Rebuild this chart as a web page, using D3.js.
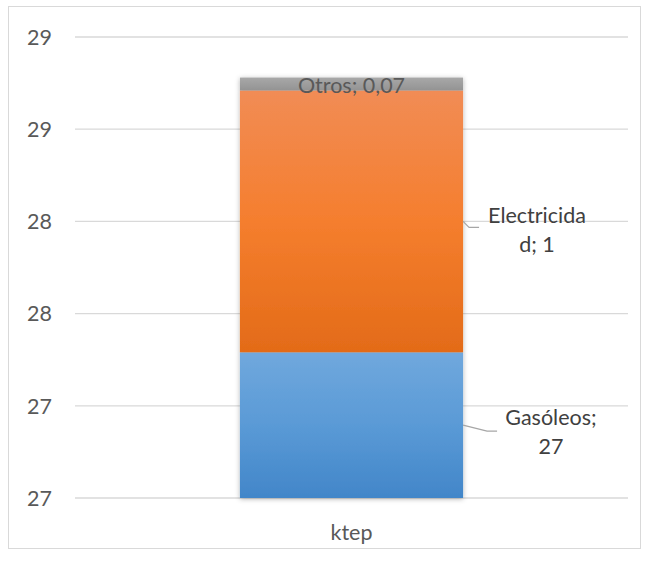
<!DOCTYPE html>
<html>
<head>
<meta charset="utf-8">
<script src="https://cdn.jsdelivr.net/npm/d3@7"></script>
<style>
  body { margin: 0; background: #fff; }
  svg { display: block; font-family: Lato, "Open Sans", sans-serif; }
</style>
</head>
<body>
<svg width="651" height="561"></svg>
<script>
// data
var categories = ["ktep"];
var seriesNames = ["Gasóleos", "Electricidad", "Otros"];
var gasoleos = [27.29];
var electricidad = [1.42];
var otros = [0.07];
var labelValues = ["27", "1", "0,07"];
var yTicks = [26.5, 27, 27.5, 28, 28.5, 29];

var svg = d3.select("svg"),
    width = 651, height = 561;

var margin = {left: 75, right: 23, top: 37, bottom: 63};
var fs = 21.5;

var rows = categories.map(function(c, i) {
  return {cat: c, "Gasóleos": gasoleos[i], "Electricidad": electricidad[i], "Otros": otros[i]};
});
var stacked = d3.stack().keys(seriesNames)(rows);

var x = d3.scaleBand()
    .domain(categories)
    .range([margin.left, width - margin.right])
    .paddingInner(0.425).paddingOuter(0.425);
var y = d3.scaleLinear()
    .domain([26.5, 29])
    .range([height - margin.bottom, margin.top]);
var ymin = y.domain()[0];

// outer frame
svg.append("rect")
    .attr("x", 8.5).attr("y", 6.5)
    .attr("width", 632).attr("height", 542)
    .attr("fill", "#fff").attr("stroke", "#d9d9d9");

// gradients: top, middle, bottom
var defs = svg.append("defs");
var grads = [
  ["gGas", "#70a8dd", "#5a9ad6", "#4286c9"],
  ["gEle", "#f18c55", "#f57e2e", "#e36b18"],
  ["gOtr", "#a8a8a8", "#9e9e9e", "#939393"]
];
grads.forEach(function(g) {
  var lg = defs.append("linearGradient").attr("id", g[0])
      .attr("x1", 0).attr("y1", 0).attr("x2", 0).attr("y2", 1);
  lg.append("stop").attr("offset", "0%").attr("stop-color", g[1]);
  lg.append("stop").attr("offset", "50%").attr("stop-color", g[2]);
  lg.append("stop").attr("offset", "100%").attr("stop-color", g[3]);
});
var f = defs.append("filter").attr("id", "shadow")
    .attr("x", "-10%").attr("y", "-10%").attr("width", "120%").attr("height", "120%");
f.append("feDropShadow").attr("dx", 0).attr("dy", 1).attr("stdDeviation", 2.5)
    .attr("flood-color", "#000").attr("flood-opacity", 0.3);

// gridlines
svg.append("g")
  .selectAll("line")
  .data(yTicks)
  .enter().append("line")
    .attr("x1", 75).attr("x2", 628)
    .attr("y1", d => y(d)).attr("y2", d => y(d))
    .attr("stroke", "#d9d9d9").attr("stroke-width", 1.3);

// y labels
svg.append("g")
  .selectAll("text")
  .data(yTicks)
  .enter().append("text")
    .attr("x", 52)
    .attr("y", d => y(d))
    .attr("dy", "0.36em")
    .attr("text-anchor", "end")
    .attr("font-size", fs)
    .attr("fill", "#595959")
    .text(d => d3.format(".0f")(d));

// bars
var cls = ["gGas", "gEle", "gOtr"];
var barG = svg.append("g").attr("filter", "url(#shadow)");
stacked.forEach(function(s, k) {
  barG.selectAll(null)
    .data(s)
    .enter().append("rect")
      .attr("x", d => x(d.data.cat))
      .attr("width", x.bandwidth())
      .attr("y", d => y(d[1]))
      .attr("height", d => y(Math.max(d[0], ymin)) - y(d[1]))
      .attr("fill", "url(#" + cls[k] + ")");
});

// data labels
var bx = x("ktep"), bw = x.bandwidth();
var gas = stacked[0][0], ele = stacked[1][0], otr = stacked[2][0];

svg.append("text")
    .attr("x", bx + bw / 2).attr("y", y(otr[1]) + 15)
    .attr("text-anchor", "middle").attr("font-size", fs)
    .attr("fill", "#595959")
    .text(seriesNames[2] + "; " + labelValues[2]);

var leaders = [
  {y0: y((ele[0] + ele[1]) / 2), dx: 16, dy: 6, lx: 537, ly: 223,
   lines: ["Electricida", "d; " + labelValues[1]]},
  {y0: y((Math.max(gas[0], ymin) + gas[1]) / 2), dx: 34, dy: 6, lx: 551, ly: 425,
   lines: ["Gasóleos;", labelValues[0]]}
];
leaders.forEach(function(l) {
  var x0 = bx + bw;
  svg.append("path")
    .attr("d", "M" + x0 + "," + l.y0 + " L" + (x0 + l.dx - 10) + "," + (l.y0 + l.dy) + " L" + (x0 + l.dx) + "," + (l.y0 + l.dy))
    .attr("fill", "none").attr("stroke", "#a6a6a6").attr("stroke-width", 1.2);
  svg.append("text")
    .attr("text-anchor", "middle").attr("font-size", fs).attr("fill", "#404040")
    .selectAll("tspan").data(l.lines).enter().append("tspan")
      .attr("x", l.lx).attr("y", (d, i) => l.ly + i * 29)
      .text(d => d);
});

// x label
svg.append("text")
    .attr("x", bx + bw / 2).attr("y", 540)
    .attr("text-anchor", "middle").attr("font-size", fs)
    .attr("fill", "#595959")
    .text(categories[0]);
</script>
</body>
</html>
